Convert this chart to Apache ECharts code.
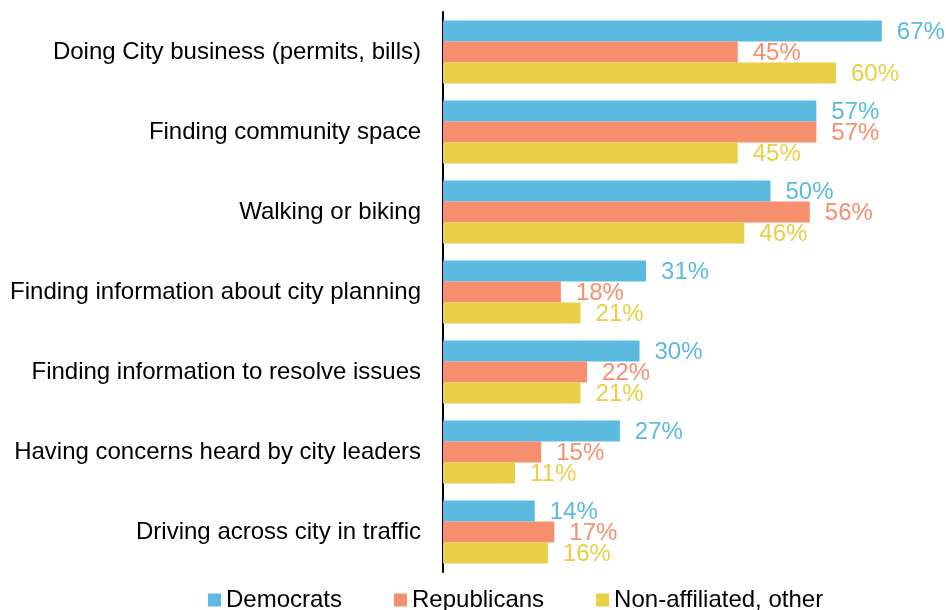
<!DOCTYPE html>
<html>
<head>
<meta charset="utf-8">
<script src="https://cdn.jsdelivr.net/npm/echarts@6/dist/echarts.min.js"></script>
<style>
  html, body { margin: 0; padding: 0; background: #fff; }
  #main { width: 946px; height: 610px; }
</style>
</head>
<body>
<div id="main"></div>
<script>
// categories, top to bottom
var categories = [
    'Doing City business (permits, bills)',
    'Finding community space',
    'Walking or biking',
    'Finding information about city planning',
    'Finding information to resolve issues',
    'Having concerns heard by city leaders',
    'Driving across city in traffic'
];
var seriesNames = ['Democrats', 'Republicans', 'Non-affiliated, other'];
var democrats = [67, 57, 50, 31, 30, 27, 14];
var republicans = [45, 57, 56, 18, 22, 15, 17];
var nonAffiliated = [60, 45, 46, 21, 21, 11, 16];
var colors = ['#5bbadf', '#f58f6e', '#e8cf45'];

var myChart = echarts.init(document.getElementById('main'));

function makeSeries(name, values, color) {
    return {
        name: name,
        type: 'bar',
        data: values,
        barGap: '0%',
        barCategoryGap: '21%',
        itemStyle: { color: color },
        label: {
            show: true,
            position: 'right',
            distance: 15,
            formatter: '{c}%',
            color: color,
            fontFamily: 'Liberation Sans',
            fontSize: 24,
            offset: [0, 1]
        }
    };
}

var option = {
    animation: false,
    textStyle: { fontFamily: 'Liberation Sans' },
    grid: { left: 443, top: 12, width: 458.5, height: 560 },
    legend: {
        left: 203,
        top: 583,
        itemWidth: 13,
        itemHeight: 13,
        itemGap: 52,
        icon: 'rect',
        textStyle: { color: '#000', fontSize: 24, fontFamily: 'Liberation Sans' },
        data: seriesNames
    },
    xAxis: {
        type: 'value',
        min: 0,
        max: 70,
        show: false
    },
    yAxis: {
        type: 'category',
        inverse: true,
        data: categories,
        axisLine: { lineStyle: { color: '#000', width: 2 } },
        axisTick: { show: false },
        axisLabel: { color: '#000', fontSize: 24, margin: 22, fontFamily: 'Liberation Sans' }
    },
    series: [
        makeSeries(seriesNames[0], democrats, colors[0]),
        makeSeries(seriesNames[1], republicans, colors[1]),
        makeSeries(seriesNames[2], nonAffiliated, colors[2])
    ]
};

myChart.setOption(option);
</script>
</body>
</html>
